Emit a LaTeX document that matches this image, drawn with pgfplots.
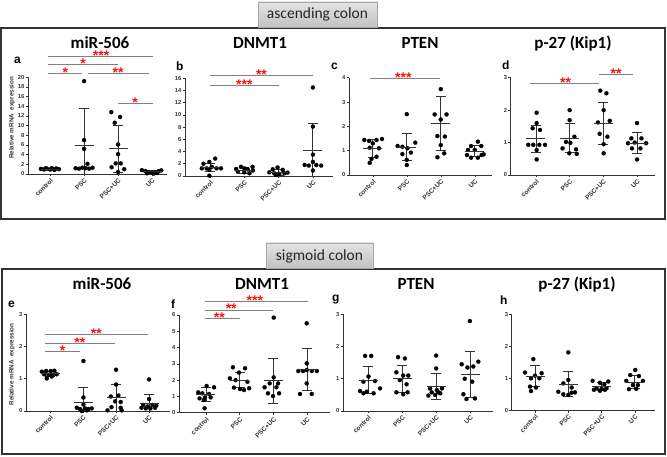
\documentclass[border=0pt]{standalone}
\usepackage{pgfplots}
\pgfplotsset{compat=1.18}
\usepackage{fontspec}
\setmainfont{Liberation Sans}
\newfontfamily\calibri{Carlito}
\definecolor{brkc}{HTML}{808080}
\definecolor{sigred}{HTML}{FF1010}
\definecolor{axc}{HTML}{333333}
\pgfplotsset{
  panel/.style={
    scale only axis,
    axis lines*=left,
    axis line style={axc, line width=0.8pt},
    enlargelimits=false,
    ymin=0,
    xtick={0,1,2,3},
    xticklabels={control,PSC,PSC+UC,UC},
    tick align=outside,
    major tick length=2.5pt,
    tick style={axc, line width=0.6pt},
    x tick label style={rotate=45, anchor=north east, font=\fontsize{6.5}{7}\selectfont\bfseries, inner sep=0.8pt, text=axc},
    y tick label style={font=\fontsize{5.8}{6}\selectfont\bfseries, inner sep=1pt, text=axc},
    /pgf/number format/assume math mode=true,
    clip=false,
    anchor=south west,
  },
  pts/.style={only marks, mark=*, mark size=2.1pt, mark options={fill=black, draw=black, line width=0.1pt}},
  msd/.style={only marks, mark=-, mark size=9.5pt, mark options={line width=0.9pt, draw=axc},
     error bars/.cd, y dir=both, y explicit, error bar style={line width=0.9pt, axc},
     error mark options={rotate=90, mark size=5pt, line width=0.9pt, axc}},
}
% #1 x start, #2 x end, #3 y, #4 star x, #5 stars
\newcommand\brk[5]{\draw[brkc, line width=0.9pt] (axis cs:#1,#3) -- (axis cs:#2,#3);
  \node[anchor=base, inner sep=0pt, yshift=-4pt, font=\fontsize{14}{14}\selectfont\bfseries, text=sigred] at (axis cs:#4,#3) {#5};}
\begin{document}
\begin{tikzpicture}
\useasboundingbox (0pt,0pt) rectangle (667pt,457pt);
% frames
\draw[axc, line width=1.3pt] (1pt,238pt) rectangle (665pt,429pt);
\draw[axc, line width=1.3pt] (2pt,3pt) rectangle (665pt,188pt);
% headers
\shade[top color=gray!22, bottom color=gray!48, draw=gray!70, line width=0.5pt] (258pt,430pt) rectangle (377pt,455pt);
\node[anchor=base, inner sep=0pt, font=\calibri\fontsize{15.5}{16}\selectfont, text=black!85] at (317.5pt,438pt) {ascending colon};
\shade[top color=gray!22, bottom color=gray!48, draw=gray!70, line width=0.5pt] (266pt,189pt) rectangle (373pt,214pt);
\node[anchor=base, inner sep=0pt, font=\calibri\fontsize{15.5}{16}\selectfont, text=black!85] at (319.5pt,196pt) {sigmoid colon};
% titles
\foreach \t/\x/\y in {miR-506/100/408.7, DNMT1/260/408.7, PTEN/420/408.7, p-27 (Kip1)/573/408.7, miR-506/102/167, DNMT1/262/167, PTEN/416/167, p-27 (Kip1)/577/167}
  \node[anchor=base, inner sep=0pt, font=\calibri\bfseries\fontsize{17}{18}\selectfont] at (\x pt,\y pt) {\t};
% letters
\foreach \t/\x/\y in {a/14/393, b/176/386.5, c/331/387, d/502/387, e/8/149, f/171/148, g/332/155, h/500/152}
  \node[anchor=base west, inner sep=0pt, font=\bfseries\fontsize{12}{12}\selectfont] at (\x pt,\y pt) {\t};
% y labels
\node[rotate=90, inner sep=0pt, font=\bfseries\fontsize{6.3}{7}\selectfont, text=axc] at (12pt,339pt) {Relative mRNA\ \ expression};
\node[rotate=90, inner sep=0pt, font=\bfseries\fontsize{6.3}{7}\selectfont, text=axc] at (12pt,92.5pt) {Relative mRNA\ \ expression};

% ---------- a ----------
\begin{axis}[panel, at={(28pt,283pt)}, width=139pt, height=96.7pt, xmin=-0.65, xmax=3.44, ymax=20, ytick={0,2,...,20}]
\addplot[pts] coordinates {(-0.27,1.05)(-0.18,0.95)(-0.09,1.1)(0,0.9)(0.09,1.05)(0.18,1.15)(0.26,1.0)(-0.13,1.2)(0.05,1.2)(0.13,0.85)
 (1,19.2)(1,7.0)(1,5.2)(1.1,2.1)(0.75,1.2)(0.85,1.1)(0.95,1.3)(1.05,1.2)(1.15,1.1)(1.25,1.3)
 (1.8,12.8)(2.06,11.8)(1.9,10.6)(2,6.1)(2,4.1)(1.93,2.2)(2.08,2.2)(1.81,1.4)(2.18,1.0)(2,0.4)
 (2.7,0.8)(2.8,0.6)(2.9,0.4)(3,0.3)(3.1,0.4)(3.2,0.6)(3.27,0.75)(2.85,0.15)(3.05,0.1)(3.15,0.2)};
\addplot[msd] coordinates {(0,1.0) +- (0,0.15) (1,6.0) += (0,7.65) -= (0,6.0) (2,5.24) +- (0,4.85) (3,0.45) +- (0,0.2)};
\brk{-0.05}{3.03}{24.4}{1.5}{***}
\brk{-0.05}{2.0}{22.7}{0.97}{*}
\brk{-0.05}{0.95}{20.8}{0.45}{*}
\brk{1.12}{2.91}{20.8}{2.0}{**}
\brk{2.0}{3.03}{14.6}{2.5}{*}
\end{axis}

% ---------- b ----------
\begin{axis}[panel, at={(185pt,281pt)}, width=147.8pt, height=97.7pt, xmin=-0.73, xmax=3.58, ymax=16, ytick={0,2,...,16}]
\addplot[pts] coordinates {(0.15,2.85)(-0.02,2.3)(-0.19,2.0)(0.05,1.5)(-0.24,1.25)(0.19,1.25)(0.32,1.25)(-0.1,1.25)(-0.02,1.0)(-0.02,0.05)
 (0.76,1.15)(0.9,1.5)(1,1.25)(1.1,1.1)(1.24,1.5)(0.81,0.7)(1,0.6)(1.15,0.45)(1.25,0.9)
 (1.83,1.1)(1.97,1.4)(2.12,1.0)(1.73,0.6)(1.87,0.45)(2.02,0.35)(2.17,0.45)(2.26,0.55)(1.92,0.15)
 (3,14.5)(3,8.1)(3,3.5)(3,2.3)(2.76,1.8)(2.88,1.7)(3.1,1.8)(3.24,1.7)(3,0.9)};
\addplot[msd] coordinates {(0,1.4) +- (0,0.7) (1,0.93) +- (0,0.47) (2,0.6) +- (0,0.45) (3,4.15) += (0,4.45) -= (0,4.15)};
\brk{0}{3}{16.4}{1.5}{**}
\brk{0}{2}{14.9}{1.0}{***}
\end{axis}

% ---------- c ----------
\begin{axis}[panel, at={(349pt,282pt)}, width=142.8pt, height=97.3pt, xmin=-0.7, xmax=3.5, ymax=4, ytick={0,1,...,4}]
\addplot[pts] coordinates {(-0.25,1.44)(-0.11,1.4)(0.11,1.44)(0.27,1.48)(0,1.3)(-0.09,1.12)(0.18,1.1)(0.11,0.75)(-0.04,0.66)(-0.09,0.5)
 (1,2.5)(0.73,1.19)(0.87,1.16)(1.02,1.1)(1.25,1.33)(0.87,0.86)(1.12,0.92)(1,0.62)(1,0.41)
 (2,3.53)(1.82,2.49)(2.17,2.49)(2,2.28)(1.9,1.6)(2.12,1.58)(2,1.23)(2.1,0.89)(1.9,0.73)
 (3.09,1.37)(2.89,1.19)(3.19,1.19)(2.8,1.03)(3,1.03)(2.77,0.82)(3.2,0.82)(2.89,0.71)(3.09,0.71)(3.26,0.85)};
\addplot[msd] coordinates {(0,1.08) +- (0,0.375) (1,1.15) +- (0,0.56) (2,2.12) +- (0,1.1) (3,0.98) +- (0,0.22)};
\brk{-0.09}{1.97}{3.97}{0.9}{***}
\end{axis}

% ---------- d ----------
\begin{axis}[panel, at={(510.7pt,282pt)}, width=144.2pt, height=97.3pt, xmin=-0.75, xmax=3.53, ymax=3, ytick={0,1,2,3}]
\addplot[pts] coordinates {(0.02,1.92)(0.02,1.6)(-0.1,1.44)(0.12,1.39)(-0.23,0.93)(-0.08,0.93)(0.1,0.93)(0.27,0.93)(0.02,0.77)(0.02,0.48)
 (1,2.0)(1,1.69)(1.14,1.18)(0.89,1.02)(1.02,0.99)(0.79,0.82)(1.19,0.79)(0.99,0.67)(1.21,0.65)
 (1.91,2.6)(2.09,2.52)(2.01,2.0)(2.19,1.67)(1.84,1.62)(1.89,1.27)(2.12,1.18)(2.01,0.95)(2.01,0.67)
 (3,1.6)(2.83,1.13)(3.13,1.13)(2.93,1.0)(2.73,0.98)(3.27,0.98)(2.85,0.82)(3.1,0.82)(3,0.48)};
\addplot[msd] coordinates {(0,1.12) +- (0,0.41) (1,1.13) +- (0,0.45) (2,1.59) +- (0,0.645) (3,0.98) +- (0,0.32)};
\brk{-0.18}{1.87}{2.83}{0.88}{**}
\brk{1.87}{2.89}{3.09}{2.38}{**}
\end{axis}

% ---------- e ----------
\begin{axis}[panel, at={(26pt,46pt)}, width=144.2pt, height=96.7pt, xmin=-0.73, xmax=3.64, ymax=3, ytick={0,1,2,3}]
\addplot[pts] coordinates {(-0.25,1.22)(-0.12,1.24)(0.02,1.24)(0.13,1.25)(-0.18,1.14)(-0.05,1.12)(0.08,1.12)(0.2,1.14)(-0.1,1.01)(0.05,1.07)
 (1.01,1.55)(1.01,0.42)(1.01,0.2)(0.81,0.1)(0.91,0.06)(1.06,0.08)(1.16,0.06)(1.26,0.08)(0.96,0.0)(1.11,0.02)
 (2,1.28)(2,0.82)(1.84,0.45)(2.07,0.48)(1.97,0.3)(2.14,0.28)(1.86,0.12)(2.14,0.1)(1.74,0.02)(2.17,0.02)
 (3,0.98)(3,0.37)(2.82,0.19)(2.95,0.14)(3.1,0.19)(3.22,0.17)(2.77,0.1)(2.9,0.08)(3.04,0.08)(3.18,0.1)};
\addplot[msd] coordinates {(0,1.15) +- (0,0.07) (1,0.25) += (0,0.47) -= (0,0.25) (2,0.41) += (0,0.42) -= (0,0.41) (3,0.22) += (0,0.28) -= (0,0.22)};
\brk{-0.15}{2.98}{2.38}{1.4}{**}
\brk{-0.15}{1.97}{2.1}{0.9}{**}
\brk{-0.15}{0.91}{1.84}{0.38}{*}
\end{axis}

% ---------- f ----------
\begin{axis}[panel, at={(179pt,44.3pt)}, width=151pt, height=97.7pt, xmin=-0.8, xmax=3.68, ymax=6, ytick={0,1,...,6}]
\addplot[pts] coordinates {(-0.23,1.25)(-0.11,1.19)(0.02,1.64)(0.24,1.56)(-0.19,0.88)(-0.03,0.94)(0.09,1.15)(0.14,0.94)(-0.06,0.78)(-0.04,0.27)
 (0.8,2.79)(1.16,2.73)(0.98,2.46)(0.71,2.11)(0.88,2.0)(1.23,1.9)(0.83,1.54)(1.01,1.45)(1.13,1.39)(1.28,1.5)
 (2.01,5.84)(2.01,2.17)(1.89,1.8)(2.14,1.8)(1.74,1.56)(2.09,1.56)(1.84,1.19)(2.17,1.19)(1.99,1.02)
 (2.99,5.49)(2.99,3.03)(2.99,2.62)(2.74,2.56)(2.88,2.56)(3.14,2.56)(3.29,2.56)(2.99,1.8)(2.79,1.15)(3.14,1.15)};
\addplot[msd] coordinates {(0,1.1) +- (0,0.43) (1,2.0) +- (0,0.48) (2,1.96) +- (0,1.4) (3,2.63) +- (0,1.29)};
\brk{-0.03}{3.02}{6.82}{1.45}{***}
\brk{-0.03}{2.0}{6.31}{0.75}{**}
\brk{-0.03}{1.0}{5.8}{0.4}{**}
\end{axis}

% ---------- g ----------
\begin{axis}[panel, at={(343pt,46pt)}, width=150.3pt, height=96.7pt, xmin=-0.74, xmax=3.68, ymax=3, ytick={0,1,2,3}]
\addplot[pts] coordinates {(-0.09,1.71)(0.09,1.71)(0.01,1.07)(0.2,0.93)(-0.14,0.91)(0.35,0.7)(-0.24,0.62)(-0.04,0.6)(-0.14,0.55)(0.16,0.55)
 (0.88,1.67)(1.08,1.63)(0.83,1.2)(1.03,1.1)(1.18,1.1)(0.93,0.96)(1.13,0.83)(0.83,0.58)(1.16,0.58)(1.03,0.52)
 (2,1.72)(2,1.32)(1.82,0.7)(2.17,0.7)(1.87,0.58)(2.07,0.58)(1.77,0.48)(1.97,0.5)(2.12,0.55)(2.02,0.65)
 (2.99,2.79)(2.75,1.45)(3.24,1.53)(2.92,1.35)(3.09,1.38)(3.06,0.91)(2.84,1.0)(2.8,0.52)(2.89,0.37)(3.14,0.39)};
\addplot[msd] coordinates {(0,0.95) +- (0,0.42) (1,1.0) +- (0,0.42) (2,0.76) +- (0,0.4) (3,1.13) +- (0,0.72)};
\end{axis}

% ---------- h ----------
\begin{axis}[panel, at={(511.7pt,46.7pt)}, width=143.2pt, height=96pt, xmin=-0.7, xmax=3.6, ymax=3, ytick={0,1,2,3}]
\addplot[pts] coordinates {(-0.05,1.6)(-0.3,1.18)(0.2,1.16)(0,1.08)(-0.12,1.0)(0.13,1.0)(-0.15,0.74)(0.03,0.71)(-0.12,0.6)
 (1,1.81)(1,0.95)(0.85,0.84)(1.1,0.71)(0.7,0.58)(1.2,0.56)(0.85,0.5)(1,0.48)(1.1,0.55)
 (1.73,0.92)(2.2,0.9)(1.95,0.86)(2.08,0.81)(1.85,0.69)(2,0.67)(2.15,0.69)(1.77,0.64)(1.95,0.61)(2.1,0.64)
 (3.01,1.26)(2.86,1.1)(3.12,1.07)(2.74,0.92)(3.24,0.92)(2.94,0.79)(3.09,0.79)(2.82,0.66)(3.04,0.67)};
\addplot[msd] coordinates {(0,1.07) +- (0,0.32) (1,0.81) +- (0,0.39) (2,0.74) +- (0,0.13) (3,0.88) +- (0,0.21)};
\end{axis}
\end{tikzpicture}
\end{document}
